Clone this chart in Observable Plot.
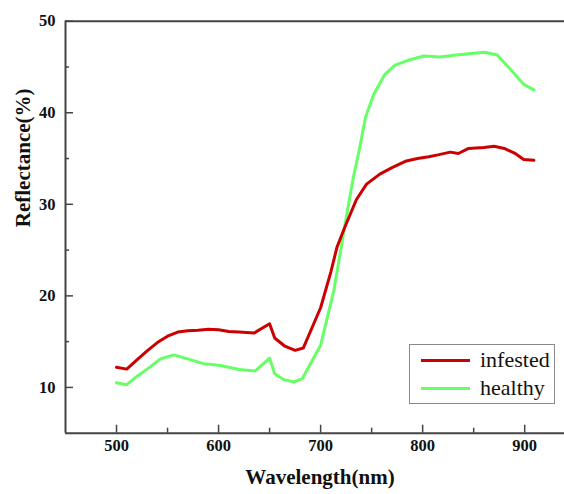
<!DOCTYPE html>
<html>
<head>
<meta charset="utf-8">
<script src="https://cdn.jsdelivr.net/npm/d3@7"></script>
<script src="https://cdn.jsdelivr.net/npm/@observablehq/plot@0.6"></script>
<style>
  html, body { margin: 0; padding: 0; background: #fff; }
  #wrap { position: relative; width: 564px; height: 494px; }
  #wrap svg { display: block; }
  #legend {
    position: absolute; left: 409px; top: 344px; width: 144px; height: 58px;
    border: 1px solid #8a8a8a; background: #fff; box-sizing: content-box;
  }
  .item { position: absolute; left: 0; height: 24px; width: 144px; }
  .swatch { position: absolute; left: 11px; width: 49px; height: 3px; }
  .lab { position: absolute; left: 70px; line-height: 24px; font-family: "Liberation Serif", "DejaVu Serif", serif; font-size: 22px; color: #111; }
</style>
</head>
<body>
<div id="wrap"></div>
<script>
// ---- data ----
const infestedWavelength = [500, 510, 520, 530, 540, 550, 560, 570, 580, 590, 600, 610, 620, 635, 650, 655, 665, 675, 683, 700, 710, 716, 723, 735, 745, 758, 770, 783, 795, 806, 815, 827, 835, 845, 860, 870, 880, 890, 899, 909];
const infestedReflectance = [12.2, 12.0, 13.0, 14.0, 14.9, 15.6, 16.05, 16.2, 16.25, 16.35, 16.3, 16.1, 16.05, 15.95, 16.95, 15.4, 14.5, 14.05, 14.3, 18.7, 22.6, 25.3, 27.3, 30.5, 32.2, 33.3, 34.0, 34.7, 35.0, 35.2, 35.4, 35.7, 35.55, 36.1, 36.2, 36.35, 36.1, 35.6, 34.9, 34.8];

const healthyWavelength = [500, 510, 520, 530, 543, 556, 569, 585, 602, 620, 636, 650, 655, 664, 674, 682, 700, 713, 724, 732, 738, 744, 752, 763, 773, 785, 801, 817, 833, 850, 861, 873, 886, 899, 909];
const healthyReflectance = [10.5, 10.3, 11.2, 12.0, 13.1, 13.55, 13.15, 12.6, 12.4, 11.95, 11.8, 13.2, 11.5, 10.85, 10.6, 10.95, 14.6, 20.6, 27.85, 32.9, 36.0, 39.5, 42.0, 44.2, 45.2, 45.7, 46.2, 46.1, 46.3, 46.5, 46.6, 46.3, 44.75, 43.1, 42.5];

const seriesNames = ["infested", "healthy"];
const seriesColors = ["#cc0000", "#66ff66"];

const xMajorTicks = [500, 600, 700, 800, 900];
const xMinorTicks = [550, 650, 750, 850];
const yMajorTicks = [10, 20, 30, 40, 50];
const yMinorTicks = [15, 25, 35, 45];

const xTitle = "Wavelength(nm)";
const yTitle = "Reflectance(%)";

// ---- build tables ----
const infested = infestedWavelength.map((w, i) => ({wavelength: w, reflectance: infestedReflectance[i], series: seriesNames[0]}));
const healthy = healthyWavelength.map((w, i) => ({wavelength: w, reflectance: healthyReflectance[i], series: seriesNames[1]}));

const W = 564, H = 494;
const mL = 65, mR = 0, mT = 20.7, mB = 61.3;
const innerW = W - mL - mR, innerH = H - mT - mB;
const axisColor = "#444";
const serif = "'Liberation Serif', 'Times New Roman', serif";

const chart = Plot.plot({
  width: W,
  height: H,
  marginLeft: mL,
  marginRight: mR,
  marginTop: mT,
  marginBottom: mB,
  x: {domain: [450, 939], axis: null},
  y: {domain: [5, 50], axis: null},
  style: {fontFamily: serif, background: "#fff"},
  marks: [
    // data lines
    Plot.line(healthy, {x: "wavelength", y: "reflectance", stroke: seriesColors[1], strokeWidth: 3, strokeLinejoin: "round"}),
    Plot.line(infested, {x: "wavelength", y: "reflectance", stroke: seriesColors[0], strokeWidth: 3, strokeLinejoin: "round"}),
    // frame lines (left, bottom, top)
    Plot.ruleX([450], {stroke: axisColor, strokeWidth: 2}),
    Plot.ruleY([5], {stroke: axisColor, strokeWidth: 2}),
    Plot.ruleY([50], {stroke: axisColor, strokeWidth: 2}),
    // inward ticks
    Plot.tickX(xMajorTicks, {x: d => d, insetTop: innerH - 8, stroke: axisColor, strokeWidth: 1.5}),
    Plot.tickX(xMinorTicks, {x: d => d, insetTop: innerH - 5, stroke: axisColor, strokeWidth: 1.5}),
    Plot.tickY(yMajorTicks, {y: d => d, insetRight: innerW - 8, stroke: axisColor, strokeWidth: 1.5}),
    Plot.tickY(yMinorTicks, {y: d => d, insetRight: innerW - 4, stroke: axisColor, strokeWidth: 1.5}),
    // tick labels
    Plot.text(xMajorTicks, {x: d => d, frameAnchor: "bottom", dy: 17.3, text: d => String(d), fontSize: 16.5, fontWeight: "bold", fill: "#111"}),
    Plot.text(yMajorTicks, {y: d => d, frameAnchor: "left", dx: -10, textAnchor: "end", text: d => String(d), fontSize: 16.5, fontWeight: "bold", fill: "#111"}),
    // axis titles
    Plot.text([xTitle], {frameAnchor: "bottom", dx: 5, dy: 50.6, text: d => d, fontSize: 21, fontWeight: "bold", fill: "#111"}),
    Plot.text([yTitle], {frameAnchor: "left", dx: -42.7, rotate: -90, text: d => d, fontSize: 21, fontWeight: "bold", fill: "#111"})
  ]
});

const wrap = document.getElementById("wrap");
wrap.appendChild(chart);

// legend
const legend = document.createElement("div");
legend.id = "legend";
seriesNames.forEach((name, i) => {
  const item = document.createElement("div");
  item.className = "item";
  item.style.top = (i === 0 ? 3 : 31) + "px";
  const sw = document.createElement("div");
  sw.className = "swatch";
  sw.style.top = "11px";
  sw.style.background = seriesColors[i];
  const lab = document.createElement("div");
  lab.className = "lab";
  lab.textContent = name;
  item.appendChild(sw);
  item.appendChild(lab);
  legend.appendChild(item);
});
wrap.appendChild(legend);
</script>
</body>
</html>
